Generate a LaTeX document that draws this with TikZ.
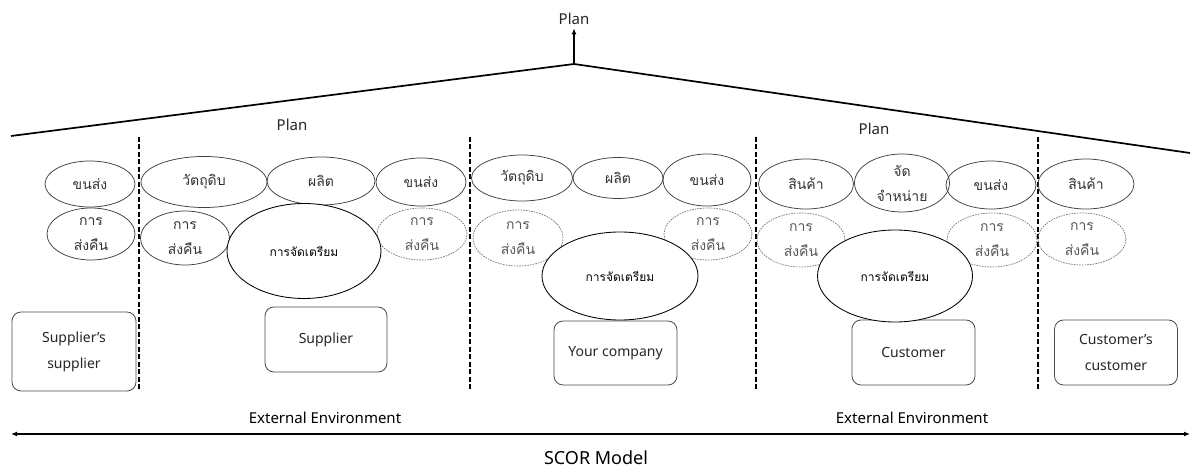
\documentclass[tikz,border=0pt]{standalone}
\usepackage{fontspec}
\setmainfont{Noto Sans}
\newfontfamily\thaifont[Script=Thai]{Loma}
\usetikzlibrary{shapes.geometric,arrows.meta}

\tikzset{
  thai/.style={font=\thaifont\fontsize{14}{25}\selectfont, align=center, text=black!80, inner sep=0},
  thaismall/.style={font=\thaifont\fontsize{12}{20}\selectfont, align=center, text=black, inner sep=0},
  lat/.style={font=\fontsize{14}{26}\selectfont, align=center, text=black!85},
  proc/.style={ellipse, draw=black!75, line width=0.75pt, inner sep=0},
  retn/.style={ellipse, draw=black!55, line width=0.7pt, dash pattern=on 1.6pt off 1.1pt, inner sep=0},
  prep/.style={ellipse, draw=black, fill=white, line width=0.85pt, inner sep=0},
  party/.style={draw=black!70, line width=0.8pt, rounded corners=9pt, inner sep=0},
  divider/.style={line width=1.3pt, dash pattern=on 5pt off 2.5pt},
  roof/.style={line width=1.7pt, line join=miter},
  tip/.style={-{Latex[length=6pt,width=5pt]}}
}

\begin{document}
\begin{tikzpicture}[x=1pt,y=-1pt]
\useasboundingbox[fill=white] (0,0) rectangle (1192,470);

% overall plan and roof
\node[lat, font=\fontsize{15}{18}\selectfont] (plantop) at (574,19) {Plan};
\coordinate (apex) at (574,64);
\coordinate (roofL) at (11,136);
\coordinate (roofR) at (1190,153);
\draw[roof] (roofL) -- (apex) -- (roofR);
\draw[line width=1.5pt, tip] (apex) -- (plantop.south);

\node[lat, font=\fontsize{15}{18}\selectfont] (planL) at (292,125) {Plan};
\node[lat, font=\fontsize{15}{18}\selectfont] (planR) at (874,129) {Plan};

% dividers between supply chain parties
\foreach \x/\n in {139/d1,470/d2,756/d3,1038/d4}{
  \coordinate (\n t) at (\x,137);
  \coordinate (\n b) at (\x,389);
  \draw[divider] (\n t) -- (\n b);
}

% parties
\node[party, minimum width=124pt, minimum height=79pt] (ss) at (74,351.5) {};
\node[lat] at (ss) {Supplier’s\\supplier};
\node[party, minimum width=122pt, minimum height=65pt] (sup) at (326,339.5) {};
\node[lat] at (sup) {Supplier};
\node[party, minimum width=123pt, minimum height=64pt] (you) at (615.5,353) {};
\node[lat] at (you) {Your company};
\node[party, minimum width=123pt, minimum height=65pt] (cus) at (913.5,352.5) {};
\node[lat] at (cus) {Customer};
\node[party, minimum width=123pt, minimum height=65pt] (cc) at (1116,352.5) {};
\node[lat] at (cc) {Customer’s\\customer};

% supplier's supplier
\node[proc, minimum width=90pt, minimum height=46pt] (a1) at (90,184) {};
\node[thai] at (a1) {ขนส่ง};
\node[proc, minimum width=88pt, minimum height=52pt] (a2) at (91,234) {};
\node[thai] at (a2) {การ\\ส่งคืน};

% supplier
\node[proc, minimum width=126pt, minimum height=51pt] (b1) at (204,182) {};
\node[thai] at (b1) {วัตถุดิบ};
\node[proc, minimum width=108pt, minimum height=48pt] (b2) at (321,181) {};
\node[thai] at (b2) {ผลิต};
\node[proc, minimum width=90pt, minimum height=48pt] (b3) at (421,182) {};
\node[thai] at (b3) {ขนส่ง};
\node[proc, minimum width=89pt, minimum height=54pt] (b4) at (185,238) {};
\node[thai] at (b4) {การ\\ส่งคืน};
\node[retn, minimum width=90pt, minimum height=52pt] (b5) at (422,234) {};
\node[thai, text=black!65] at (b5) {การ\\ส่งคืน};
\node[prep, minimum width=154pt, minimum height=95pt] (b6) at (304,251) {};
\node[thaismall] at (b6) {การจัดเตรียม};

% your company
\node[proc, minimum width=101pt, minimum height=46pt] (c1) at (522,178) {};
\node[thai] at (c1) {วัตถุดิบ};
\node[proc, minimum width=90pt, minimum height=41pt] (c2) at (618,178) {};
\node[thai] at (c2) {ผลิต};
\node[proc, minimum width=88pt, minimum height=52pt] (c3) at (707,180) {};
\node[thai] at (c3) {ขนส่ง};
\node[retn, minimum width=90pt, minimum height=56pt] (c4) at (518,238) {};
\node[thai, text=black!65] at (c4) {การ\\ส่งคืน};
\node[retn, minimum width=88pt, minimum height=52pt] (c5) at (708,234) {};
\node[thai, text=black!65] at (c5) {การ\\ส่งคืน};
\node[prep, minimum width=156pt, minimum height=88pt] (c6) at (620,276) {};
\node[thaismall] at (c6) {การจัดเตรียม};

% customer
\node[proc, minimum width=95pt, minimum height=50pt] (e1) at (806,184) {};
\node[thai] at (e1) {สินค้า};
\node[proc, minimum width=95pt, minimum height=58pt] (e2) at (902,183) {};
\node[thai] at (e2) {จัด\\จำหน่าย};
\node[proc, minimum width=90pt, minimum height=48pt] (e3) at (991,185) {};
\node[thai] at (e3) {ขนส่ง};
\node[retn, minimum width=88pt, minimum height=54pt] (e4) at (801,240) {};
\node[thai, text=black!65] at (e4) {การ\\ส่งคืน};
\node[retn, minimum width=90pt, minimum height=54pt] (e5) at (992,240) {};
\node[thai, text=black!65] at (e5) {การ\\ส่งคืน};
\node[prep, minimum width=155pt, minimum height=92pt] (e6) at (895,276) {};
\node[thaismall] at (e6) {การจัดเตรียม};

% customer's customer
\node[proc, minimum width=96pt, minimum height=50pt] (f1) at (1086,184) {};
\node[thai] at (f1) {สินค้า};
\node[retn, minimum width=88pt, minimum height=52pt] (f2) at (1082,239) {};
\node[thai, text=black!65] at (f2) {การ\\ส่งคืน};

% scope of the model
\node[lat, font=\fontsize{15}{17}\selectfont, text=black] (envL) at (325,418) {External Environment};
\node[lat, font=\fontsize{15}{17}\selectfont, text=black] (envR) at (912,418) {External Environment};
\coordinate (axL) at (11,434);
\coordinate (axR) at (1190,434);
\draw[line width=1.6pt, {Latex[length=6pt,width=5pt]}-{Latex[length=6pt,width=5pt]}] (axL) -- (axR);
\node[font=\fontsize{18}{21}\selectfont] (scor) at (596,458) {SCOR Model};
\end{tikzpicture}
\end{document}
